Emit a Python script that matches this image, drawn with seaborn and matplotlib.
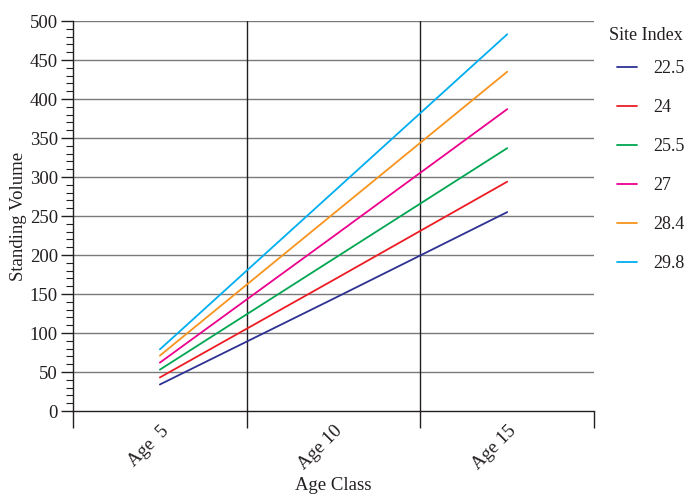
import matplotlib
matplotlib.use("Agg")
import matplotlib.pyplot as plt
import seaborn as sns
import pandas as pd
from matplotlib.ticker import FixedLocator, MultipleLocator

ages = ["Age  5", "Age 10", "Age 15"]
site_index = ["22.5", "24", "25.5", "27", "28.4", "29.8"]
vol_22_5 = [34, 144, 255]
vol_24 = [43, 168, 294]
vol_25_5 = [53, 195, 337]
vol_27 = [62, 224, 387]
vol_28_4 = [71, 253, 435]
vol_29_8 = [79, 281, 483]
colors = ["#2E3192", "#ED1C24", "#00A651", "#EC008C", "#F7941D", "#00AEEF"]

series = [vol_22_5, vol_24, vol_25_5, vol_27, vol_28_4, vol_29_8]
rows = []
for si, vals in zip(site_index, series):
    for age, v in zip(ages, vals):
        rows.append({"Age Class": age, "Standing Volume": v, "Site Index": si})
df = pd.DataFrame(rows)

sns.set_theme(style="white")
plt.rcParams["font.family"] = ["Liberation Serif", "DejaVu Serif"]
plt.rcParams["text.color"] = "#231F20"
plt.rcParams["axes.labelcolor"] = "#231F20"
plt.rcParams["xtick.color"] = "#231F20"
plt.rcParams["ytick.color"] = "#231F20"

fs = 13.5

fig = plt.figure(figsize=(6.87, 4.97), dpi=100)
ax = fig.add_axes([0.1063, 0.1730, 0.7584, 0.7847])

# horizontal grid every 50, vertical separators between categories
for y in range(50, 501, 50):
    ax.axhline(y, color="#7a7a7a", lw=1.0, zorder=0)
for x in (0.5, 1.5):
    ax.axvline(x, color="#231F20", lw=1.0, zorder=0)

sns.lineplot(data=df, x="Age Class", y="Standing Volume", hue="Site Index",
             hue_order=site_index, palette=colors, linewidth=1.3, ax=ax,
             sort=False)

ax.set_xlim(-0.5, 2.5)
ax.set_ylim(0, 500)

ax.xaxis.set_major_locator(FixedLocator([-0.5, 0.5, 1.5, 2.5]))
ax.xaxis.set_minor_locator(FixedLocator([0, 1, 2]))
ax.set_xticklabels([], minor=False)
ax.set_xticklabels(ages, minor=True, rotation=45, ha="right", va="top",
                   rotation_mode="anchor", fontsize=fs)
ax.tick_params(axis="x", which="major", direction="out", length=12,
               width=1, bottom=True)
ax.tick_params(axis="x", which="minor", length=0, pad=8)

ax.yaxis.set_major_locator(MultipleLocator(50))
ax.yaxis.set_minor_locator(MultipleLocator(10))
ax.tick_params(axis="y", which="major", direction="out", length=9, width=1,
               left=True, labelsize=fs, pad=2)
ax.tick_params(axis="y", which="minor", direction="out", length=5, width=0.8,
               left=True)

for side in ("top", "right"):
    ax.spines[side].set_visible(False)
for side in ("left", "bottom"):
    ax.spines[side].set_color("#231F20")
    ax.spines[side].set_linewidth(1.0)

ax.set_xlabel("Age Class", fontsize=fs, labelpad=3)
ax.set_ylabel("Standing Volume", fontsize=fs, labelpad=2)

leg = ax.legend(loc="upper left",
                bbox_to_anchor=(0.888, 0.894), bbox_transform=fig.transFigure,
                frameon=False, fontsize=13,
                handlelength=1.1, handletextpad=0.9, labelspacing=1.22,
                borderaxespad=0)
for line in leg.get_lines():
    line.set_linewidth(1.3)
fig.text(646 / 687, 1 - 35 / 497, "Site Index", ha="center", va="center",
         fontsize=13)

fig.savefig("out.png", dpi=100)
